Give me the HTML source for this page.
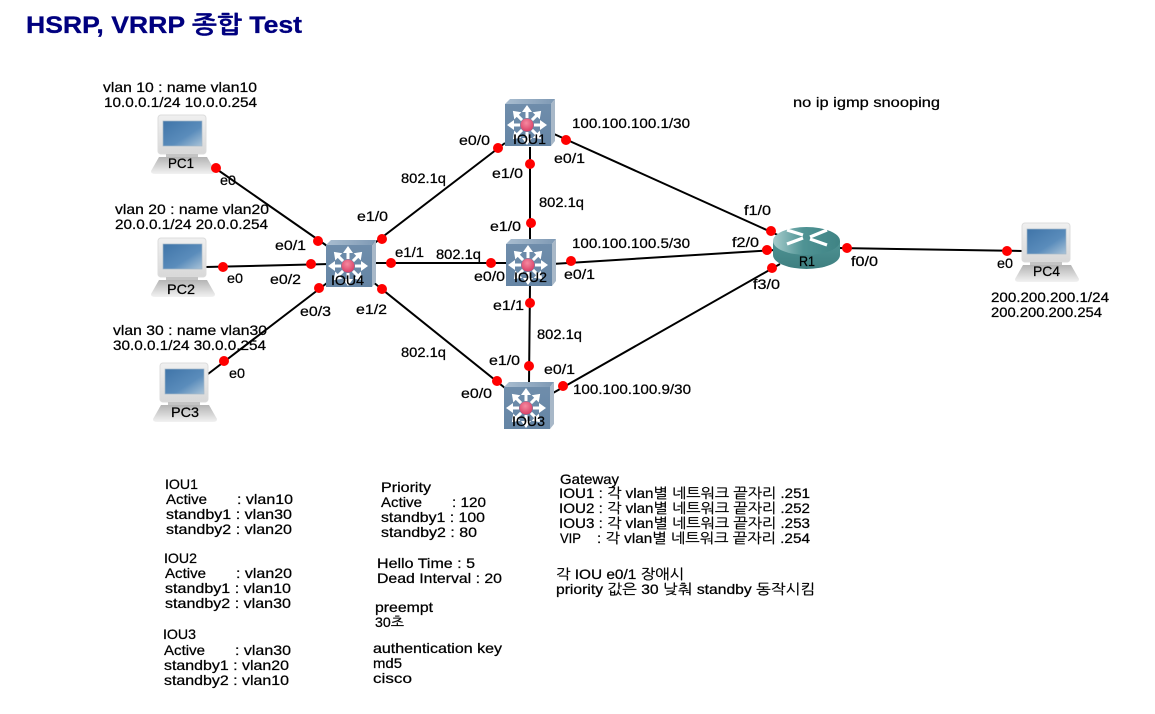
<!DOCTYPE html>
<html><head><meta charset="utf-8">
<style>
html,body{margin:0;padding:0;background:#fff;width:1155px;height:714px;overflow:hidden}
svg{display:block}
text{font-family:"Liberation Sans","NanumGothic","Noto Sans CJK KR",sans-serif;font-size:14px;fill:#000;stroke:#000;stroke-width:.25}
.l{stroke:#000;stroke-width:2;fill:none}
.d{fill:#f00}
</style></head><body>
<svg width="1155" height="714" viewBox="0 0 1155 714" xmlns="http://www.w3.org/2000/svg">
<defs>
<linearGradient id="scr" x1="0" y1="0" x2="1" y2="1"><stop offset="0" stop-color="#3f74a8"/><stop offset=".6" stop-color="#5a8cbb"/><stop offset="1" stop-color="#a9c3d8"/></linearGradient>
<linearGradient id="mon" x1="0" y1="0" x2="0" y2="1"><stop offset="0" stop-color="#f0f0f0"/><stop offset="1" stop-color="#d8d8d8"/></linearGradient>
<linearGradient id="bas" x1="0" y1="0" x2="0" y2="1"><stop offset="0" stop-color="#b4b4b4"/><stop offset="1" stop-color="#f2f2f2"/></linearGradient>
<linearGradient id="sw" x1="0" y1="0" x2="0" y2="1"><stop offset="0" stop-color="#6f8dab"/><stop offset="1" stop-color="#6585a5"/></linearGradient>
<linearGradient id="swt" x1="0" y1="0" x2="1" y2="0"><stop offset="0" stop-color="#a9bdd0"/><stop offset="1" stop-color="#7e99b4"/></linearGradient>
<radialGradient id="red" cx=".45" cy=".35" r=".7"><stop offset="0" stop-color="#f58aa0"/><stop offset="1" stop-color="#d63a62"/></radialGradient>
<linearGradient id="rt" x1="0" y1="0" x2="0" y2="1"><stop offset="0" stop-color="#4f9394"/><stop offset="1" stop-color="#3e7f80"/></linearGradient>
<linearGradient id="rtop" x1="0" y1="0" x2="1" y2="0"><stop offset="0" stop-color="#a6cccc"/><stop offset=".45" stop-color="#4f9394"/><stop offset="1" stop-color="#3f8384"/></linearGradient>

<g id="pc">
<rect x="7" y="0" width="48" height="39" rx="3" fill="url(#mon)" stroke="#dcdcdc"/>
<rect x="12" y="6" width="39" height="25" fill="url(#scr)" stroke="#a5b8c8" stroke-width=".7"/>
<rect x="15" y="39" width="32" height="3" fill="#c4c4c4"/>
<path d="M8 42H56L64 56Q64 59 60 59H4Q0 59 0 56Z" fill="url(#bas)"/>
</g>

<g id="ar"><path d="M0 -7V-15" stroke="#fff" stroke-width="3"/><path d="M-5 -13L0 -20L5 -13Z" fill="#fff"/></g>
<g id="sw1">
<path d="M0 0L5 -5H50L46 0Z" fill="url(#swt)"/>
<path d="M46 0L50 -5V37L46 42Z" fill="#a8b8c8"/>
<rect x="0" y="0" width="46" height="42" fill="url(#sw)"/>
<g transform="translate(22 21)">
<use href="#ar"/><use href="#ar" transform="rotate(45)"/><use href="#ar" transform="rotate(90)"/><use href="#ar" transform="rotate(135)"/><use href="#ar" transform="rotate(180)"/><use href="#ar" transform="rotate(225)"/><use href="#ar" transform="rotate(270)"/><use href="#ar" transform="rotate(315)"/>
<circle r="6.500" fill="url(#red)"/>
</g>
</g>
</defs>

<!-- links -->
<path class="l" d="M215 168L330 248M206 267L330 264M208 374L327 283M372 245L505 143M375 263L506 263M373 282L505 388M530 147V240M530 285L529 383M554 134L780 236M552 264L775 250M553 393L780 264M838 248L1022 251"/>

<!-- icons -->
<use href="#pc" x="151" y="115"/>
<use href="#pc" x="151" y="238"/>
<use href="#pc" x="153" y="363"/>
<use href="#pc" x="1015" y="223"/>
<use href="#sw1" x="326" y="245"/>
<use href="#sw1" x="505" y="104"/>
<use href="#sw1" x="506" y="244"/>
<use href="#sw1" x="504" y="387"/>

<!-- router -->
<path d="M773 241V255A33.500 14 0 0 0 840 255V241Z" fill="url(#rt)"/>
<ellipse cx="806.500" cy="241" rx="33.500" ry="14" fill="url(#rtop)"/>
<g stroke="#fff" stroke-width="3.200" fill="none">
<path d="M787 230L803 235M827 230L810 237M787 244L803 238M827 245L810 239"/>
</g>

<!-- dots -->
<g class="d">
<circle cx="216" cy="168" r="5"/><circle cx="318" cy="241" r="5"/><circle cx="223" cy="267" r="5"/><circle cx="311" cy="264" r="5"/>
<circle cx="224" cy="361" r="5"/><circle cx="319" cy="288" r="5"/><circle cx="382" cy="239" r="5"/><circle cx="498" cy="148" r="5"/>
<circle cx="391" cy="263" r="5"/><circle cx="491" cy="263" r="5"/><circle cx="382" cy="289" r="5"/><circle cx="497" cy="381" r="5"/>
<circle cx="530" cy="164" r="5"/><circle cx="531" cy="223" r="5"/><circle cx="530" cy="303" r="5"/><circle cx="529" cy="366" r="5"/>
<circle cx="566" cy="140" r="5"/><circle cx="771" cy="231" r="5"/><circle cx="571" cy="261" r="5"/><circle cx="767" cy="250" r="5"/>
<circle cx="563" cy="386" r="5"/><circle cx="772" cy="268" r="5"/><circle cx="847" cy="248" r="5"/><circle cx="1007" cy="251" r="5"/>
</g>

<!-- title -->
<text x="26" y="33" textLength="276" lengthAdjust="spacingAndGlyphs" style="font-size:24px;font-weight:bold;fill:#00007f;stroke:#00007f;stroke-width:.3">HSRP, VRRP 종합 Test</text>

<!-- node labels -->
<text x="103" y="92" textLength="154" lengthAdjust="spacingAndGlyphs">vlan 10 : name vlan10</text>
<text x="104" y="107" textLength="153" lengthAdjust="spacingAndGlyphs">10.0.0.1/24 10.0.0.254</text>
<text x="115" y="214" textLength="154" lengthAdjust="spacingAndGlyphs">vlan 20 : name vlan20</text>
<text x="115" y="229" textLength="153" lengthAdjust="spacingAndGlyphs">20.0.0.1/24 20.0.0.254</text>
<text x="113" y="335" textLength="154" lengthAdjust="spacingAndGlyphs">vlan 30 : name vlan30</text>
<text x="113" y="350" textLength="153" lengthAdjust="spacingAndGlyphs">30.0.0.1/24 30.0.0.254</text>
<text x="168" y="168" textLength="26" lengthAdjust="spacingAndGlyphs">PC1</text>
<text x="167" y="294" textLength="28" lengthAdjust="spacingAndGlyphs">PC2</text>
<text x="171" y="417" textLength="28" lengthAdjust="spacingAndGlyphs">PC3</text>
<text x="1033" y="276" textLength="27" lengthAdjust="spacingAndGlyphs">PC4</text>
<text x="331" y="285" textLength="33" lengthAdjust="spacingAndGlyphs">IOU4</text>
<text x="513" y="144" textLength="33" lengthAdjust="spacingAndGlyphs">IOU1</text>
<text x="514" y="282" textLength="33" lengthAdjust="spacingAndGlyphs">IOU2</text>
<text x="512" y="426" textLength="33" lengthAdjust="spacingAndGlyphs">IOU3</text>
<text x="799" y="266" textLength="16" lengthAdjust="spacingAndGlyphs">R1</text>

<!-- interface labels -->
<text x="220" y="185" textLength="16" lengthAdjust="spacingAndGlyphs">e0</text>
<text x="227" y="283" textLength="16" lengthAdjust="spacingAndGlyphs">e0</text>
<text x="229" y="378" textLength="16" lengthAdjust="spacingAndGlyphs">e0</text>
<text x="997" y="268" textLength="16" lengthAdjust="spacingAndGlyphs">e0</text>
<text x="275" y="250" textLength="31" lengthAdjust="spacingAndGlyphs">e0/1</text>
<text x="270" y="284" textLength="31" lengthAdjust="spacingAndGlyphs">e0/2</text>
<text x="300" y="316" textLength="31" lengthAdjust="spacingAndGlyphs">e0/3</text>
<text x="357" y="221" textLength="31" lengthAdjust="spacingAndGlyphs">e1/0</text>
<text x="395" y="257" textLength="29" lengthAdjust="spacingAndGlyphs">e1/1</text>
<text x="356" y="314" textLength="31" lengthAdjust="spacingAndGlyphs">e1/2</text>
<text x="401" y="183" textLength="45" lengthAdjust="spacingAndGlyphs">802.1q</text>
<text x="436" y="259" textLength="45" lengthAdjust="spacingAndGlyphs">802.1q</text>
<text x="401" y="357" textLength="45" lengthAdjust="spacingAndGlyphs">802.1q</text>
<text x="539" y="207" textLength="45" lengthAdjust="spacingAndGlyphs">802.1q</text>
<text x="537" y="339" textLength="45" lengthAdjust="spacingAndGlyphs">802.1q</text>
<text x="459" y="145" textLength="31" lengthAdjust="spacingAndGlyphs">e0/0</text>
<text x="554" y="163" textLength="31" lengthAdjust="spacingAndGlyphs">e0/1</text>
<text x="492" y="178" textLength="31" lengthAdjust="spacingAndGlyphs">e1/0</text>
<text x="490" y="231" textLength="31" lengthAdjust="spacingAndGlyphs">e1/0</text>
<text x="474" y="281" textLength="31" lengthAdjust="spacingAndGlyphs">e0/0</text>
<text x="564" y="279" textLength="31" lengthAdjust="spacingAndGlyphs">e0/1</text>
<text x="493" y="310" textLength="31" lengthAdjust="spacingAndGlyphs">e1/1</text>
<text x="489" y="365" textLength="31" lengthAdjust="spacingAndGlyphs">e1/0</text>
<text x="544" y="374" textLength="31" lengthAdjust="spacingAndGlyphs">e0/1</text>
<text x="461" y="398" textLength="31" lengthAdjust="spacingAndGlyphs">e0/0</text>
<text x="572" y="128" textLength="118" lengthAdjust="spacingAndGlyphs">100.100.100.1/30</text>
<text x="572" y="248" textLength="118" lengthAdjust="spacingAndGlyphs">100.100.100.5/30</text>
<text x="573" y="394" textLength="118" lengthAdjust="spacingAndGlyphs">100.100.100.9/30</text>
<text x="793" y="107" textLength="147" lengthAdjust="spacingAndGlyphs">no ip igmp snooping</text>
<text x="744" y="215" textLength="27" lengthAdjust="spacingAndGlyphs">f1/0</text>
<text x="732" y="247" textLength="27" lengthAdjust="spacingAndGlyphs">f2/0</text>
<text x="753" y="289" textLength="27" lengthAdjust="spacingAndGlyphs">f3/0</text>
<text x="851" y="266" textLength="27" lengthAdjust="spacingAndGlyphs">f0/0</text>
<text x="991" y="302" textLength="118" lengthAdjust="spacingAndGlyphs">200.200.200.1/24</text>
<text x="991" y="317" textLength="111" lengthAdjust="spacingAndGlyphs">200.200.200.254</text>

<!-- IOU roles -->
<text x="165" y="489" textLength="33" lengthAdjust="spacingAndGlyphs">IOU1</text>
<text x="166" y="504" textLength="41" lengthAdjust="spacingAndGlyphs">Active</text>
<text x="237" y="504" textLength="56" lengthAdjust="spacingAndGlyphs">: vlan10</text>
<text x="166" y="519" textLength="126" lengthAdjust="spacingAndGlyphs">standby1 : vlan30</text>
<text x="166" y="534" textLength="126" lengthAdjust="spacingAndGlyphs">standby2 : vlan20</text>
<text x="164" y="563" textLength="33" lengthAdjust="spacingAndGlyphs">IOU2</text>
<text x="165" y="578" textLength="41" lengthAdjust="spacingAndGlyphs">Active</text>
<text x="236" y="578" textLength="56" lengthAdjust="spacingAndGlyphs">: vlan20</text>
<text x="165" y="593" textLength="126" lengthAdjust="spacingAndGlyphs">standby1 : vlan10</text>
<text x="165" y="608" textLength="126" lengthAdjust="spacingAndGlyphs">standby2 : vlan30</text>
<text x="163" y="639" textLength="33" lengthAdjust="spacingAndGlyphs">IOU3</text>
<text x="164" y="655" textLength="41" lengthAdjust="spacingAndGlyphs">Active</text>
<text x="235" y="655" textLength="56" lengthAdjust="spacingAndGlyphs">: vlan30</text>
<text x="164" y="670" textLength="125" lengthAdjust="spacingAndGlyphs">standby1 : vlan20</text>
<text x="164" y="685" textLength="125" lengthAdjust="spacingAndGlyphs">standby2 : vlan10</text>

<!-- priority -->
<text x="381" y="492" textLength="50" lengthAdjust="spacingAndGlyphs">Priority</text>
<text x="381" y="507" textLength="41" lengthAdjust="spacingAndGlyphs">Active</text>
<text x="452" y="507" textLength="34" lengthAdjust="spacingAndGlyphs">: 120</text>
<text x="381" y="522" textLength="104" lengthAdjust="spacingAndGlyphs">standby1 : 100</text>
<text x="381" y="537" textLength="96" lengthAdjust="spacingAndGlyphs">standby2 : 80</text>
<text x="377" y="568" textLength="98" lengthAdjust="spacingAndGlyphs">Hello Time : 5</text>
<text x="377" y="583" textLength="125" lengthAdjust="spacingAndGlyphs">Dead Interval : 20</text>
<text x="375" y="612" textLength="58" lengthAdjust="spacingAndGlyphs">preempt</text>
<text x="375" y="627" textLength="29" lengthAdjust="spacingAndGlyphs">30초</text>
<text x="373" y="653" textLength="129" lengthAdjust="spacingAndGlyphs">authentication key</text>
<text x="373" y="668" textLength="29" lengthAdjust="spacingAndGlyphs">md5</text>
<text x="373" y="683" textLength="39" lengthAdjust="spacingAndGlyphs">cisco</text>

<!-- gateway -->
<text x="560" y="484" textLength="59" lengthAdjust="spacingAndGlyphs">Gateway</text>
<text x="559" y="498" textLength="251" lengthAdjust="spacingAndGlyphs">IOU1 : 각 vlan별 네트워크 끝자리 .251</text>
<text x="559" y="513" textLength="251" lengthAdjust="spacingAndGlyphs">IOU2 : 각 vlan별 네트워크 끝자리 .252</text>
<text x="559" y="528" textLength="251" lengthAdjust="spacingAndGlyphs">IOU3 : 각 vlan별 네트워크 끝자리 .253</text>
<text x="560" y="543" textLength="21" lengthAdjust="spacingAndGlyphs">VIP</text>
<text x="597" y="543" textLength="213" lengthAdjust="spacingAndGlyphs">: 각 vlan별 네트워크 끝자리 .254</text>
<text x="556" y="579" textLength="128" lengthAdjust="spacingAndGlyphs">각 IOU e0/1 장애시</text>
<text x="556" y="594" textLength="259" lengthAdjust="spacingAndGlyphs">priority 값은 30 낮춰 standby 동작시킴</text>
</svg>
</body></html>
